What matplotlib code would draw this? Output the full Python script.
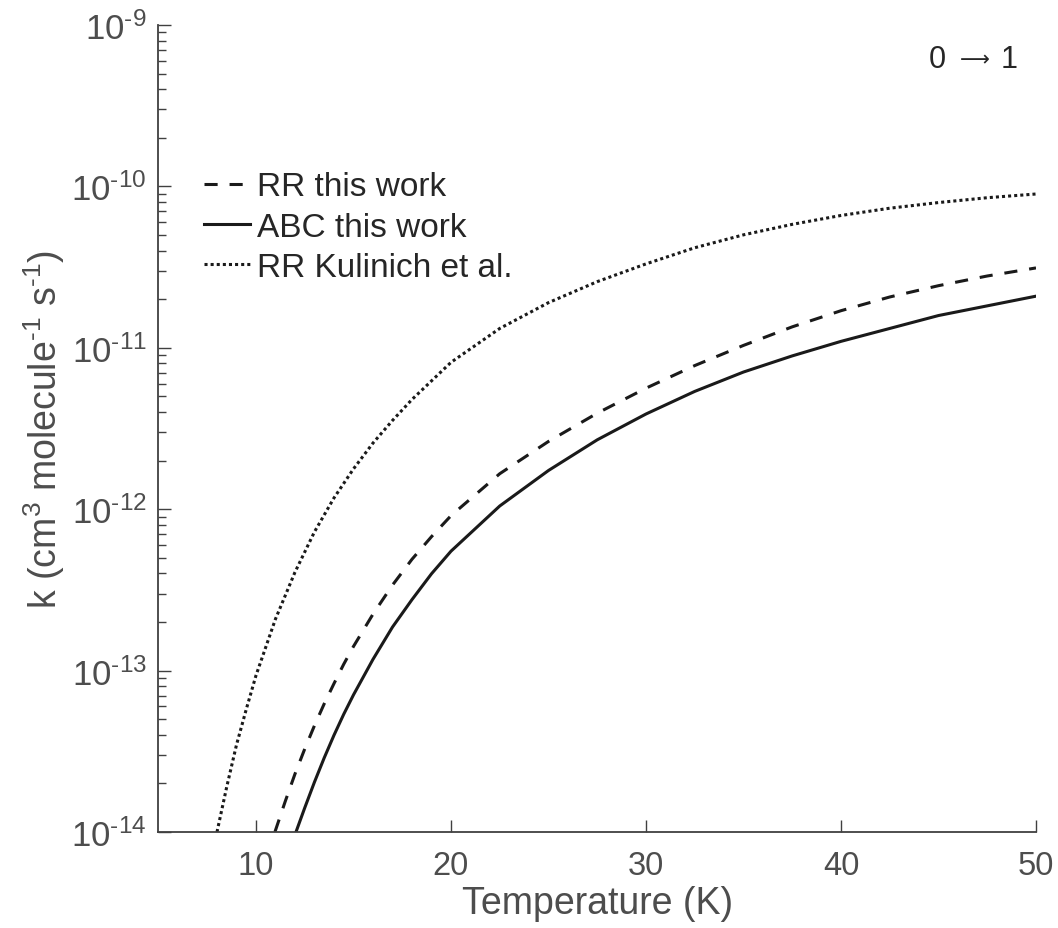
import matplotlib
matplotlib.use("Agg")
import matplotlib.pyplot as plt
import numpy as np

# temperatures (K) and log10 rate coefficients
T_rr = [10.97, 11.5, 12.0, 12.5, 13.0, 13.5, 14.0, 14.5, 15.0, 16.0, 17.0, 18.0, 19.0, 20.0,
        22.5, 25.0, 27.5, 30.0, 32.5, 35.0, 37.5, 40.0, 42.5, 45.0, 47.5, 50.0]
logk_rr = [-14.0, -13.81, -13.64, -13.485, -13.34, -13.205, -13.08, -12.96, -12.85, -12.65, -12.47,
           -12.31, -12.17, -12.04, -11.78, -11.58, -11.405, -11.25, -11.11, -10.985, -10.87, -10.77,
           -10.685, -10.615, -10.555, -10.505]

T_abc = [12.05, 12.5, 13.0, 13.5, 14.0, 14.5, 15.0, 16.0, 17.0, 18.0, 19.0, 20.0, 22.5, 25.0,
         27.5, 30.0, 32.5, 35.0, 37.5, 40.0, 42.5, 45.0, 47.5, 50.0]
logk_abc = [-14.0, -13.85, -13.69, -13.54, -13.40, -13.27, -13.15, -12.93, -12.73, -12.56, -12.40,
            -12.26, -11.98, -11.76, -11.57, -11.41, -11.27, -11.15, -11.05, -10.96, -10.88, -10.80,
            -10.74, -10.68]

T_kul = [8.0, 8.5, 9.0, 9.5, 10.0, 11.0, 12.0, 13.0, 14.0, 15.0, 16.0, 17.0, 18.0, 20.0, 22.5,
         25.0, 27.5, 30.0, 32.5, 35.0, 37.5, 40.0, 42.5, 45.0, 47.5, 50.0]
logk_kul = [-14.0, -13.72, -13.46, -13.24, -13.03, -12.68, -12.39, -12.14, -11.93, -11.75, -11.59,
            -11.45, -11.32, -11.09, -10.88, -10.72, -10.59, -10.48, -10.38, -10.30, -10.235, -10.18,
            -10.135, -10.10, -10.07, -10.047]

labels = ["RR this work", "ABC this work", "RR Kulinich et al."]
xticks = [10, 20, 30, 40, 50]
yticks = [1e-14, 1e-13, 1e-12, 1e-11, 1e-10, 1e-9]
ytick_labels = ["$10^{\u201014}$", "$10^{\u201013}$", "$10^{\u201012}$",
                "$10^{\u201011}$", "$10^{\u201010}$", "$10^{\u20109}$"]

plt.rcParams["font.family"] = ["Liberation Sans", "DejaVu Sans"]
plt.rcParams["mathtext.fontset"] = "custom"
plt.rcParams["mathtext.rm"] = "Liberation Sans"
plt.rcParams["mathtext.it"] = "Liberation Sans"
plt.rcParams["mathtext.default"] = "regular"

axis_col = "#404040"
label_col = "#4d4d4d"
line_col = "#1a1a1a"
text_col = "#262626"

fig = plt.figure(figsize=(10.58, 9.29), dpi=100)
ax = fig.add_axes([0.1498, 0.1033, 0.8294, 0.8687])

ax.plot(T_rr, 10 ** np.array(logk_rr), color=line_col, lw=2.2, dashes=[4.3, 3.9], label=labels[0])
ax.plot(T_abc, 10 ** np.array(logk_abc), color=line_col, lw=2.2, label=labels[1])
ax.plot(T_kul, 10 ** np.array(logk_kul), color=line_col, lw=2.2, dashes=[1.0, 1.0], label=labels[2])

ax.set_yscale("log")
ax.set_xlim(5, 50)
ax.set_ylim(1e-14, 1e-9)
ax.set_xticks(xticks)
ax.set_yticks(yticks)
ax.set_yticklabels(ytick_labels)

for side in ["top", "right"]:
    ax.spines[side].set_visible(False)
for side in ["left", "bottom"]:
    ax.spines[side].set_color(axis_col)
    ax.spines[side].set_linewidth(1.3)

ax.tick_params(axis="both", which="both", direction="in", colors=axis_col, labelcolor=label_col,
               top=False, right=False, width=1.0)
ax.tick_params(axis="both", which="major", length=9)
ax.tick_params(axis="x", which="major", labelsize=23.5, pad=13)
ax.tick_params(axis="y", which="major", labelsize=25, pad=8.5)
ax.tick_params(axis="y", which="minor", length=6)

ax.set_xlabel("Temperature (K)", fontsize=27, color=label_col, labelpad=3)
ax.set_ylabel("k (cm$^{3}$ molecule$^{\u20101}$ s$^{\u20101}$)", fontsize=27, color=label_col, labelpad=3)

leg = ax.legend(loc="center left", bbox_to_anchor=(0.052, 0.7497), frameon=False, fontsize=24,
                handlelength=1.38, handletextpad=0.2, labelspacing=0.28, borderaxespad=0, borderpad=0)
for t in leg.get_texts():
    t.set_color(text_col)

# transition label "0 -> 1"
ax.text(0.888, 0.958, "0", transform=ax.transAxes, fontsize=22, color=text_col, ha="center", va="center")
ax.text(0.9305, 0.958, "\u27f6", transform=ax.transAxes, fontsize=15, color=text_col,
        ha="center", va="center", family=["DejaVu Sans"])
ax.text(0.969, 0.958, "1", transform=ax.transAxes, fontsize=22, color=text_col, ha="center", va="center")

fig.savefig("out.png", dpi=100)
